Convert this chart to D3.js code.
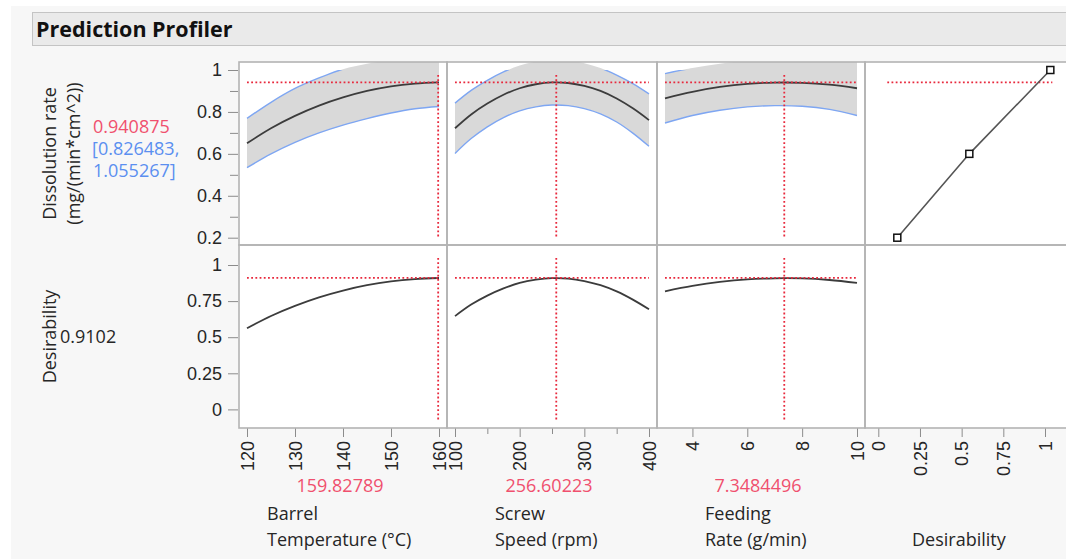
<!DOCTYPE html>
<html>
<head>
<meta charset="utf-8">
<script src="https://cdn.jsdelivr.net/npm/d3@7"></script>
<style>
  html, body { margin: 0; padding: 0; background: #ffffff; }
  svg { display: block; font-family: "Open Sans", "Noto Sans", "DejaVu Sans", sans-serif; }
</style>
</head>
<body>
<svg id="chart" width="1066" height="559"></svg>
<script>
// ---- Factors and their current settings ----
const factorLine1 = ["Barrel", "Screw", "Feeding"];
const factorLine2 = ["Temperature (°C)", "Speed (rpm)", "Rate (g/min)"];
const currentSettings = [159.82789, 256.60223, 7.3484496];
const currentLabels = ["159.82789", "256.60223", "7.3484496"];

// ---- Axis ticks ----
const tempTicks = [120, 130, 140, 150, 160];
const speedTicks = [100, 200, 300, 400];
const speedMinorTicks = [150, 250, 350];
const feedTicks = [4, 6, 8, 10];
const desirAxisTicks = [0, 0.25, 0.5, 0.75, 1];
const responseTicks = [0.2, 0.4, 0.6, 0.8, 1];
const responseMinorTicks = [0.3, 0.5, 0.7, 0.9];
const desirTicks = [0, 0.25, 0.5, 0.75, 1];

// ---- Response: predicted value and confidence interval ----
const predicted = 0.940875;
const ciLow = 0.826483;
const ciHigh = 1.055267;
const overallDesirability = 0.9102;

// ---- Profile traces: Barrel Temperature ----
const tempGrid  = [120, 125, 130, 135, 140, 145, 150, 155, 160];
const tempMean  = [0.650, 0.722, 0.781, 0.830, 0.869, 0.900, 0.922, 0.935, 0.941];
const tempUpper = [0.769, 0.846, 0.912, 0.962, 1.004, 1.030, 1.046, 1.054, 1.056];
const tempLower = [0.534, 0.600, 0.655, 0.700, 0.737, 0.768, 0.795, 0.815, 0.826];
const tempDesir = [0.562, 0.647, 0.717, 0.776, 0.823, 0.860, 0.886, 0.902, 0.910];

// ---- Profile traces: Screw Speed ----
const speedGrid  = [100, 125, 150, 175, 200, 225, 250, 275, 300, 325, 350, 375, 400];
const speedMean  = [0.722, 0.788, 0.840, 0.882, 0.913, 0.932, 0.941, 0.938, 0.924, 0.900, 0.864, 0.817, 0.761];
const speedUpper = [0.842, 0.903, 0.951, 0.991, 1.021, 1.040, 1.049, 1.046, 1.032, 1.009, 0.976, 0.935, 0.886];
const speedLower = [0.602, 0.673, 0.729, 0.773, 0.805, 0.824, 0.833, 0.830, 0.816, 0.791, 0.752, 0.699, 0.636];
const speedDesir = [0.646, 0.726, 0.788, 0.838, 0.876, 0.898, 0.909, 0.906, 0.889, 0.860, 0.817, 0.760, 0.693];

// ---- Profile traces: Feeding Rate ----
const feedGrid  = [3, 4, 5, 6, 7, 8, 9, 10];
const feedMean  = [0.865, 0.896, 0.919, 0.934, 0.940, 0.939, 0.930, 0.913];
const feedUpper = [0.983, 1.009, 1.030, 1.044, 1.050, 1.051, 1.048, 1.043];
const feedLower = [0.747, 0.783, 0.808, 0.824, 0.830, 0.827, 0.812, 0.783];
const feedDesir = [0.818, 0.855, 0.883, 0.901, 0.908, 0.907, 0.896, 0.876];

// ---- Desirability function of the response ----
const desirFnX = [0.114, 0.546, 1.032];
const desirFnY = [0.2, 0.6, 1.0];

// ---------------------------------------------------------------
const svg = d3.select("#chart");
const W = 1066, H = 559;

const colEdges = [239, 447, 657, 865, 1075];
const rowEdges = [62, 245, 428];

const C = {
  bg: "#f7f7f7",
  titleBar: "#eaeaea",
  frame: "#b3b3b3",
  tick: "#8c8c8c",
  text: "#262626",
  band: "#d9d9d9",
  ci: "#7ea6f2",
  mean: "#3c3c3c",
  ref: "#e8283c",
  redText: "#f0506e",
  blueText: "#5b8ff0"
};

// page background and title bar
svg.append("rect").attr("x", 0).attr("y", 0).attr("width", W).attr("height", H).attr("fill", "#ffffff");
svg.append("rect").attr("x", 11).attr("y", 6).attr("width", W - 11).attr("height", H - 6).attr("fill", C.bg);
svg.append("rect").attr("x", 32.5).attr("y", 12.5).attr("width", W).attr("height", 33)
  .attr("fill", C.titleBar).attr("stroke", "#c4c4c4").attr("stroke-width", 1);
svg.append("text").attr("x", 36).attr("y", 37).text("Prediction Profiler")
  .attr("font-size", 21.5).attr("font-weight", "bold").attr("fill", "#111");

// scales
const yTop = d3.scaleLinear().domain([0.2, 1]).range([rowEdges[1] - 7.3, rowEdges[0] + 8]);
const yBot = d3.scaleLinear().domain([0, 1]).range([rowEdges[2] - 18.6, rowEdges[1] + 20]);

const factorData = [
  { grid: tempGrid, mean: tempMean, upper: tempUpper, lower: tempLower, desir: tempDesir, ticks: tempTicks, minor: [] },
  { grid: speedGrid, mean: speedMean, upper: speedUpper, lower: speedLower, desir: speedDesir, ticks: speedTicks, minor: speedMinorTicks },
  { grid: feedGrid, mean: feedMean, upper: feedUpper, lower: feedLower, desir: feedDesir, ticks: feedTicks, minor: [] }
];

const defs = svg.append("defs");

// panel frames (white plotting areas)
for (let r = 0; r < 2; r++) {
  for (let c = 0; c < 4; c++) {
    svg.append("rect")
      .attr("x", colEdges[c]).attr("y", rowEdges[r])
      .attr("width", colEdges[c + 1] - colEdges[c]).attr("height", rowEdges[r + 1] - rowEdges[r])
      .attr("fill", "#ffffff");
  }
}

const fmt = d => String(d);

factorData.forEach((f, i) => {
  const left = colEdges[i], right = colEdges[i + 1];
  const x = d3.scaleLinear().domain(d3.extent(f.grid)).range([left + 8, right - 8]);

  // clip paths: whole panel for the band, below the top margin for the CI lines
  const clipId = "clipTop" + i, clipLineId = "clipLine" + i;
  defs.append("clipPath").attr("id", clipId).append("rect")
    .attr("x", left).attr("y", rowEdges[0]).attr("width", right - left).attr("height", rowEdges[1] - rowEdges[0]);
  defs.append("clipPath").attr("id", clipLineId).append("rect")
    .attr("x", left).attr("y", yTop(1)).attr("width", right - left).attr("height", rowEdges[1] - yTop(1));

  const pts = f.grid.map((g, k) => ({ g, m: f.mean[k], u: f.upper[k], l: f.lower[k], d: f.desir[k] }));
  const curve = d3.curveCatmullRom.alpha(0.5);

  // confidence band
  svg.append("path").datum(pts)
    .attr("clip-path", `url(#${clipId})`)
    .attr("fill", C.band)
    .attr("d", d3.area().curve(curve).x(p => x(p.g)).y0(p => yTop(p.l)).y1(p => yTop(p.u)));

  const gLines = svg.append("g").attr("clip-path", `url(#${clipLineId})`);
  gLines.append("path").datum(pts).attr("fill", "none").attr("stroke", C.ci).attr("stroke-width", 1.4)
    .attr("d", d3.line().curve(curve).x(p => x(p.g)).y(p => yTop(p.u)));
  gLines.append("path").datum(pts).attr("fill", "none").attr("stroke", C.ci).attr("stroke-width", 1.4)
    .attr("d", d3.line().curve(curve).x(p => x(p.g)).y(p => yTop(p.l)));

  // predicted response trace
  svg.append("path").datum(pts).attr("fill", "none").attr("stroke", C.mean).attr("stroke-width", 1.8)
    .attr("d", d3.line().curve(curve).x(p => x(p.g)).y(p => yTop(p.m)));

  // desirability trace
  svg.append("path").datum(pts).attr("fill", "none").attr("stroke", C.mean).attr("stroke-width", 1.8)
    .attr("d", d3.line().curve(curve).x(p => x(p.g)).y(p => yBot(p.d)));

  // reference crosshairs at the current setting
  const xs = x(currentSettings[i]);
  const [g0, g1] = d3.extent(f.grid);
  [[yTop, predicted, 0], [yBot, overallDesirability, 1]].forEach(([ys, v, r]) => {
    svg.append("line")
      .attr("x1", x(g0)).attr("x2", x(g1)).attr("y1", ys(v)).attr("y2", ys(v))
      .attr("stroke", C.ref).attr("stroke-width", 1.8).attr("stroke-dasharray", "1.8 2.4");
    svg.append("line")
      .attr("x1", xs).attr("x2", xs).attr("y1", rowEdges[r] + 13).attr("y2", rowEdges[r + 1] - 7)
      .attr("stroke", C.ref).attr("stroke-width", 1.8).attr("stroke-dasharray", "1.8 2.4");
  });

  // x axis below the lower row
  const ax = svg.append("g").attr("transform", `translate(0,${rowEdges[2]})`)
    .call(d3.axisBottom(x).tickValues(f.ticks).tickSize(9).tickFormat(fmt));
  if (f.minor.length) {
    svg.append("g").attr("transform", `translate(0,${rowEdges[2]})`)
      .call(d3.axisBottom(x).tickValues(f.minor).tickSize(6).tickFormat(""))
      .call(g => g.select(".domain").remove())
      .call(g => g.selectAll("line").attr("stroke", C.tick));
  }
  styleXAxis(ax);

  // current setting value and factor name
  const cx = (left + right) / 2 - 3;
  svg.append("text").attr("x", cx).attr("y", 492).attr("text-anchor", "middle")
    .attr("font-size", 18).attr("fill", C.redText).text(currentLabels[i]);
  const lx = left + (i === 0 ? 28 : 48);
  svg.append("text").attr("x", lx).attr("y", 520).attr("font-size", 18).attr("fill", C.text).text(factorLine1[i]);
  svg.append("text").attr("x", lx).attr("y", 546).attr("font-size", 18).attr("fill", C.text).text(factorLine2[i]);
});

function styleXAxis(ax) {
  ax.select(".domain").remove();
  ax.selectAll(".tick line").attr("stroke", C.tick);
  ax.selectAll(".tick text")
    .attr("transform", "rotate(-90)")
    .attr("x", -13).attr("y", 0).attr("dy", "0.35em")
    .attr("text-anchor", "end")
    .attr("font-size", 18).attr("font-family", null).attr("fill", C.text);
}

// desirability function column
{
  const left = colEdges[3], right = colEdges[4];
  const xd = d3.scaleLinear().domain([0, 1]).range([left + 13.3, left + 180]);
  const fnPts = desirFnX.map((d, k) => ({ d, r: desirFnY[k] }));

  svg.append("line")
    .attr("x1", xd(desirFnX[0]) - 10).attr("x2", xd(desirFnX[desirFnX.length - 1]) + 2)
    .attr("y1", yTop(predicted)).attr("y2", yTop(predicted))
    .attr("stroke", C.ref).attr("stroke-width", 1.8).attr("stroke-dasharray", "1.8 2.4");

  svg.append("path").datum(fnPts).attr("fill", "none").attr("stroke", "#555").attr("stroke-width", 1.6)
    .attr("d", d3.line().x(p => xd(p.d)).y(p => yTop(p.r)));

  svg.selectAll(".fnpt").data(fnPts).enter().append("rect")
    .attr("x", p => xd(p.d) - 3.5).attr("y", p => yTop(p.r) - 3.5)
    .attr("width", 7).attr("height", 7)
    .attr("fill", "#fff").attr("stroke", "#111").attr("stroke-width", 1.5);

  const ax = svg.append("g").attr("transform", `translate(0,${rowEdges[2]})`)
    .call(d3.axisBottom(xd).tickValues(desirAxisTicks).tickSize(9).tickFormat(fmt));
  styleXAxis(ax);

  svg.append("text").attr("x", left + 47).attr("y", 546).attr("font-size", 18).attr("fill", C.text).text("Desirability");
}

// panel borders
for (let r = 0; r < 2; r++) {
  for (let c = 0; c < 4; c++) {
    svg.append("rect")
      .attr("x", colEdges[c]).attr("y", rowEdges[r])
      .attr("width", colEdges[c + 1] - colEdges[c]).attr("height", rowEdges[r + 1] - rowEdges[r])
      .attr("fill", "none").attr("stroke", C.frame).attr("stroke-width", 1.6);
  }
}

// y axes
function styleYAxis(g) {
  g.select(".domain").remove();
  g.selectAll(".tick line").attr("stroke", C.tick);
  g.selectAll(".tick text").attr("font-size", 18).attr("font-family", null).attr("fill", C.text);
}
const yAxisX = colEdges[0] - 1;
svg.append("g").attr("transform", `translate(${yAxisX},0)`)
  .call(d3.axisLeft(yTop).tickValues(responseTicks).tickSize(10).tickPadding(6).tickFormat(fmt))
  .call(styleYAxis);
svg.append("g").attr("transform", `translate(${yAxisX},0)`)
  .call(d3.axisLeft(yTop).tickValues(responseMinorTicks).tickSize(8).tickFormat(""))
  .call(styleYAxis);
svg.append("g").attr("transform", `translate(${yAxisX},0)`)
  .call(d3.axisLeft(yBot).tickValues(desirTicks).tickSize(10).tickPadding(6).tickFormat(fmt))
  .call(styleYAxis);

// response labels on the left
const midTop = (rowEdges[0] + rowEdges[1]) / 2;
const midBot = (rowEdges[1] + rowEdges[2]) / 2;
svg.append("text").attr("transform", `translate(56,${midTop}) rotate(-90)`).attr("text-anchor", "middle")
  .attr("font-size", 18).attr("fill", C.text).text("Dissolution rate");
svg.append("text").attr("transform", `translate(80,${midTop}) rotate(-90)`).attr("text-anchor", "middle")
  .attr("font-size", 18).attr("fill", C.text).text("(mg/(min*cm^2))");
svg.append("text").attr("x", 93).attr("y", 133).attr("font-size", 18).attr("fill", C.redText)
  .text(predicted.toFixed(6));
svg.append("text").attr("x", 92).attr("y", 155).attr("font-size", 18).attr("fill", C.blueText)
  .text("[" + ciLow.toFixed(6) + ",");
svg.append("text").attr("x", 93).attr("y", 177).attr("font-size", 18).attr("fill", C.blueText)
  .text(ciHigh.toFixed(6) + "]");

svg.append("text").attr("transform", `translate(56,${midBot}) rotate(-90)`).attr("text-anchor", "middle")
  .attr("font-size", 18).attr("fill", C.text).text("Desirability");
svg.append("text").attr("x", 60).attr("y", 343).attr("font-size", 18).attr("fill", C.text)
  .text(overallDesirability.toFixed(4));
</script>
</body>
</html>
